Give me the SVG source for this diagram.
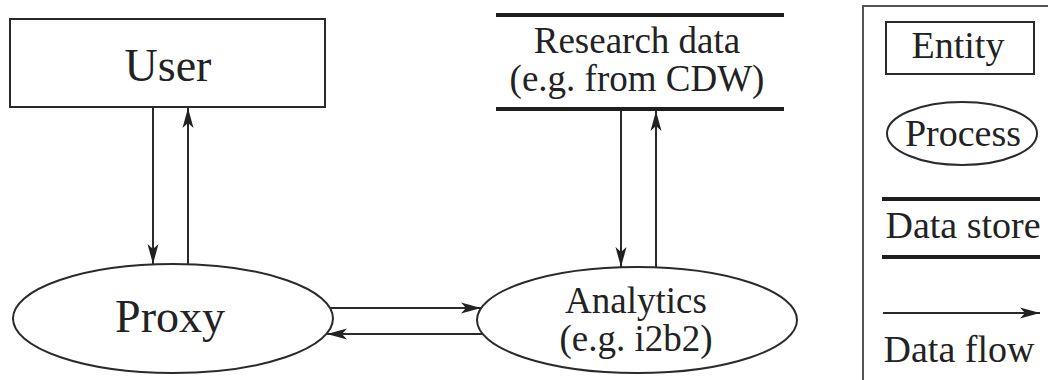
<svg xmlns="http://www.w3.org/2000/svg" width="1048" height="380" viewBox="0 0 1048 380">
  <style>
    .shape { fill: #fff; stroke: #2a2a2a; stroke-width: 2; }
    .store { stroke: #1e1e1e; stroke-width: 4; }
    .flow { fill: none; stroke: #2a2a2a; stroke-width: 2; marker-end: url(#arrow); }
    .label { font-family: "Liberation Serif", "Times New Roman", serif; fill: #222; text-anchor: middle; }
    .big { font-size: 46px; }
    .mid { font-size: 38px; }
    .pair { font-size: 37px; }
    .frame { fill: none; stroke: #555; stroke-width: 2; }
  </style>
  <defs>
    <marker id="arrow" markerUnits="userSpaceOnUse" markerWidth="22" markerHeight="14" refX="20" refY="6" orient="auto">
      <path d="M0,0.5 L20,6 L0,11.5 L5,6 z" fill="#222"/>
    </marker>
  </defs>

  <rect width="1048" height="380" fill="#fff"/>

  <!-- external entity -->
  <g id="user">
    <rect class="shape" x="10" y="19" width="315" height="88"/>
    <text class="label big" x="168" y="81">User</text>
  </g>

  <!-- proxy process -->
  <g id="proxy">
    <ellipse class="shape" cx="173" cy="318.5" rx="160" ry="54.5"/>
    <text class="label big" x="170" y="332">Proxy</text>
  </g>

  <!-- analytics process -->
  <g id="analytics">
    <ellipse class="shape" cx="637" cy="320" rx="160" ry="53"/>
    <text class="label pair" x="636" y="313">Analytics</text>
    <text class="label pair" x="636" y="351">(e.g. i2b2)</text>
  </g>

  <!-- data store -->
  <g id="research-data">
    <line class="store" x1="496" y1="15" x2="784" y2="15"/>
    <line class="store" x1="496" y1="109" x2="784" y2="109"/>
    <text class="label pair" x="637" y="53">Research data</text>
    <text class="label pair" x="637" y="91">(e.g. from CDW)</text>
  </g>

  <!-- data flows -->
  <g id="connectors">
    <line class="flow" x1="153" y1="107" x2="153" y2="264"/>
    <line class="flow" x1="188" y1="264" x2="188" y2="108"/>
    <line class="flow" x1="330" y1="308" x2="481" y2="308"/>
    <line class="flow" x1="483" y1="334" x2="327" y2="334"/>
    <line class="flow" x1="621" y1="111" x2="621" y2="267"/>
    <line class="flow" x1="656" y1="267" x2="656" y2="111"/>
  </g>

  <!-- key -->
  <g id="legend">
    <rect class="frame" x="863" y="6" width="200" height="390"/>
    <g id="legend-entity">
      <rect class="shape" x="886" y="22" width="148" height="52"/>
      <text class="label mid" x="958" y="58">Entity</text>
    </g>
    <g id="legend-process">
      <ellipse class="shape" cx="962" cy="133.5" rx="75" ry="31.5"/>
      <text class="label mid" x="963" y="146">Process</text>
    </g>
    <g id="legend-store">
      <line class="store" x1="882" y1="199" x2="1040" y2="199"/>
      <line class="store" x1="882" y1="257" x2="1040" y2="257"/>
      <text class="label mid" x="963" y="238">Data store</text>
    </g>
    <g id="legend-flow">
      <line class="flow" x1="883" y1="313" x2="1040" y2="313"/>
      <text class="label mid" x="959" y="362">Data flow</text>
    </g>
  </g>
</svg>
